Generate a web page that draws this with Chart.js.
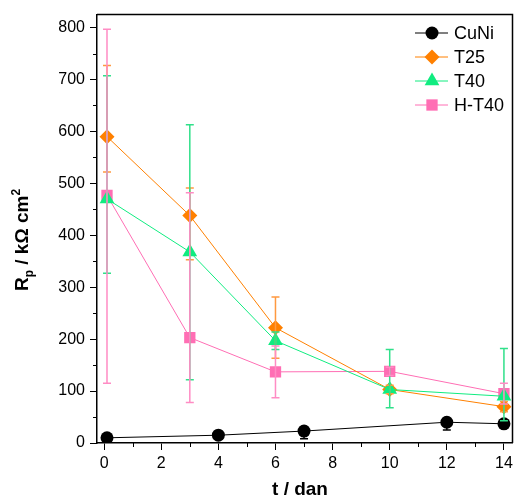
<!DOCTYPE html>
<html>
<head>
<meta charset="utf-8">
<script src="https://cdn.jsdelivr.net/npm/chart.js@4.4.1/dist/chart.umd.min.js"></script>
<style>
  html, body { margin: 0; padding: 0; background: #fff; }
  #wrap { width: 521px; height: 499px; }
</style>
</head>
<body>
<div id="wrap"><canvas id="chart" width="521" height="499"></canvas></div>
<script>
// Data
const seriesNames = ['CuNi', 'T25', 'T40', 'H-T40'];

const cuNiX = [0.1, 4, 7, 12, 14];
const cuNiY = [10, 15, 23, 40, 37];
const cuNiLow = [7, 11, 8, 25, 32];
const cuNiHigh = [13, 19, 30, 47, 42];

const t25X = [0.1, 3, 6, 10, 14];
const t25Y = [590, 438, 222, 103, 70];
const t25Low = [522, 353, 163, 95, 60];
const t25High = [727, 491, 281, 111, 80];

const t40X = [0.1, 3, 6, 10, 14];
const t40Y = [470, 368, 197, 103, 90];
const t40Low = [327, 122, 180, 68, 43];
const t40High = [707, 613, 214, 180, 182];

const ht40X = [0.1, 3, 6, 10, 14];
const ht40Y = [477, 203, 137, 138, 95];
const ht40Low = [115, 78, 87, 130, 75];
const ht40High = [797, 482, 187, 146, 115];

const xTicks = [0, 2, 4, 6, 8, 10, 12, 14];
const yTicks = [0, 100, 200, 300, 400, 500, 600, 700, 800];

const colors = ['#000000', '#FF8000', '#10EC80', '#FF6EB4'];
const errColors = ['#000000', '#FF9940', '#30E08A', '#FF8CC4'];
const pointStyles = ['circle', 'rectRot', 'triangle', 'rect'];
const pointSizes = [6.5, 7.5, 8.5, 8];

function pts(xs, ys) {
    return xs.map((x, i) => ({ x: x, y: ys[i] }));
}

const allX = [cuNiX, t25X, t40X, ht40X];
const allY = [cuNiY, t25Y, t40Y, ht40Y];
const allLow = [cuNiLow, t25Low, t40Low, ht40Low];
const allHigh = [cuNiHigh, t25High, t40High, ht40High];
const drawOrder = [1, 2, 0, 3]; // T40 on top, H-T40 at the back

const datasets = seriesNames.map((name, i) => ({
    label: name,
    data: pts(allX[i], allY[i]),
    showLine: true,
    borderColor: colors[i],
    backgroundColor: colors[i],
    borderWidth: 1,
    pointStyle: pointStyles[i],
    pointRadius: pointSizes[i],
    pointBorderWidth: 0,
    order: drawOrder[i],
    low: allLow[i],
    high: allHigh[i]
}));

// Error bars, minor ticks, frame, titles and legend
const extrasPlugin = {
    id: 'extras',
    afterDatasetsDraw(chart) {
        const ctx = chart.ctx;
        const xs = chart.scales.x, ys = chart.scales.y;
        ctx.save();
        chart.data.datasets.forEach((ds, i) => {
            ctx.strokeStyle = errColors[i];
            ctx.lineWidth = 1.5;
            ds.data.forEach((p, j) => {
                const px = xs.getPixelForValue(p.x);
                const y1 = ys.getPixelForValue(ds.low[j]);
                const y2 = ys.getPixelForValue(ds.high[j]);
                ctx.beginPath();
                ctx.moveTo(px, y1); ctx.lineTo(px, y2);
                ctx.moveTo(px - 4, y1); ctx.lineTo(px + 4, y1);
                ctx.moveTo(px - 4, y2); ctx.lineTo(px + 4, y2);
                ctx.stroke();
            });
        });
        ctx.restore();
    },
    afterDraw(chart) {
        const ctx = chart.ctx;
        const a = chart.chartArea;
        const xs = chart.scales.x, ys = chart.scales.y;
        ctx.save();
        ctx.strokeStyle = '#000';
        ctx.lineWidth = 1.5;
        // frame top and right
        ctx.beginPath();
        ctx.moveTo(a.left, a.top); ctx.lineTo(a.right, a.top); ctx.lineTo(a.right, a.bottom);
        ctx.stroke();
        // minor ticks
        ctx.lineWidth = 1;
        ctx.beginPath();
        for (let v = 50; v < 825; v += 100) {
            const py = Math.round(ys.getPixelForValue(v)) + 0.5;
            ctx.moveTo(a.left, py); ctx.lineTo(a.left - 4, py);
        }
        for (let v = 1; v < 14.3; v += 2) {
            const px = Math.round(xs.getPixelForValue(v)) + 0.5;
            ctx.moveTo(px, a.bottom); ctx.lineTo(px, a.bottom + 4);
        }
        ctx.stroke();

        // x title
        ctx.fillStyle = '#000';
        ctx.font = 'bold 19px "Liberation Sans", Arial, sans-serif';
        ctx.textAlign = 'center';
        ctx.textBaseline = 'alphabetic';
        ctx.fillText('t / dan', 300, 495);

        // y title with subscript and superscript
        ctx.save();
        ctx.translate(28, 240);
        ctx.rotate(-Math.PI / 2);
        const big = 'bold 19px "Liberation Sans", Arial, sans-serif';
        const small = 'bold 12px "Liberation Sans", Arial, sans-serif';
        const parts = [
            { t: 'R', f: big, dy: 0 },
            { t: 'p', f: small, dy: 5 },
            { t: ' / k\u03A9 cm', f: big, dy: 0 },
            { t: '2', f: small, dy: -8 }
        ];
        let total = 0;
        parts.forEach(p => { ctx.font = p.f; total += ctx.measureText(p.t).width; });
        let cx = -total / 2;
        ctx.textAlign = 'left';
        parts.forEach(p => {
            ctx.font = p.f;
            ctx.fillText(p.t, cx, p.dy);
            cx += ctx.measureText(p.t).width;
        });
        ctx.restore();

        // legend
        const rows = [33, 57, 81, 105];
        ctx.font = '18px "Liberation Sans", Arial, sans-serif';
        ctx.textBaseline = 'middle';
        ctx.textAlign = 'left';
        chart.data.datasets.forEach((ds, i) => {
            const y = rows[i];
            ctx.strokeStyle = colors[i];
            ctx.lineWidth = 1;
            ctx.beginPath();
            ctx.moveTo(415, y); ctx.lineTo(448, y);
            ctx.stroke();
            ctx.fillStyle = colors[i];
            Chart.helpers.drawPoint(ctx, {
                pointStyle: pointStyles[i], radius: pointSizes[i], borderWidth: 0, rotation: 0
            }, 432, y);
            ctx.fillStyle = '#000';
            ctx.fillText(ds.label, 454, y + 1);
        });
        ctx.restore();
    }
};

document.addEventListener('DOMContentLoaded', function() {
    const canvas = document.getElementById('chart');
    new Chart(canvas, {
        type: 'scatter',
        data: { datasets: datasets },
        options: {
            responsive: false,
            animation: false,
            layout: { padding: { top: 14, right: 1, left: 0, bottom: 0 } },
            plugins: { legend: { display: false }, tooltip: { enabled: false } },
            scales: {
                x: {
                    type: 'linear',
                    min: -0.25,
                    max: 14.3,
                    afterBuildTicks: s => { s.ticks = xTicks.map(v => ({ value: v })); },
                    afterFit: s => { s.height = 56; },
                    grid: { drawOnChartArea: false, color: '#000', tickLength: 7, lineWidth: 1 },
                    border: { color: '#000', width: 1.5 },
                    ticks: {
                        color: '#000',
                        padding: 4,
                        maxRotation: 0,
                        font: { family: '"Liberation Sans", Arial, sans-serif', size: 16 }
                    }
                },
                y: {
                    type: 'linear',
                    min: 0,
                    max: 825,
                    afterBuildTicks: s => { s.ticks = yTicks.map(v => ({ value: v })); },
                    afterFit: s => { s.width = 97; },
                    grid: { drawOnChartArea: false, color: '#000', tickLength: 7, lineWidth: 1 },
                    border: { color: '#000', width: 1.5 },
                    ticks: {
                        color: '#000',
                        padding: 5,
                        font: { family: '"Liberation Sans", Arial, sans-serif', size: 16 }
                    }
                }
            }
        },
        plugins: [extrasPlugin]
    });
});
</script>
</body>
</html>
